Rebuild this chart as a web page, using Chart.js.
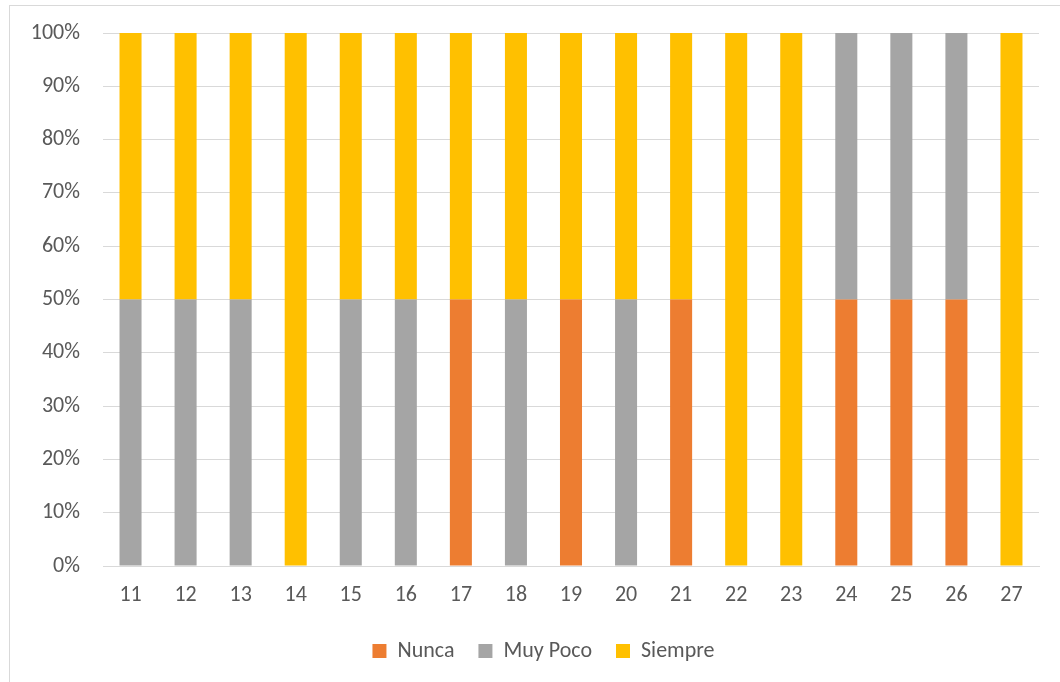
<!DOCTYPE html>
<html>
<head>
<meta charset="utf-8">
<script src="https://cdn.jsdelivr.net/npm/chart.js@4"></script>
<style>
  html, body { margin: 0; padding: 0; background: #fff; }
  #wrap { position: relative; width: 1060px; height: 682px; overflow: hidden; }
  #frame { position: absolute; left: 9px; top: 5px; width: 1100px; height: 720px; border: 1px solid #d9d9d9; box-sizing: border-box; }
  canvas { position: absolute; left: 0; top: 0; }
</style>
</head>
<body>
<div id="wrap">
  <div id="frame"></div>
  <canvas id="chart" width="1060" height="682"></canvas>
</div>
<script>
const categories = ["11","12","13","14","15","16","17","18","19","20","21","22","23","24","25","26","27"];
const nunca    = [0, 0, 0, 0, 0, 0, 50, 0, 50, 0, 50, 0, 0, 50, 50, 50, 0];
const muyPoco  = [50, 50, 50, 0, 50, 50, 0, 50, 0, 50, 0, 0, 0, 50, 50, 50, 0];
const siempre  = [50, 50, 50, 100, 50, 50, 50, 50, 50, 50, 50, 100, 100, 0, 0, 0, 100];

const fontFam = "Carlito, Lato, 'Open Sans', sans-serif";
const txt = "#595959";
const grid = "#d9d9d9";

// push the legend a bit right, like the original
const legendShift = {
  id: "legendShift",
  afterLayout(chart) {
    chart.legend.left += 24;
    chart.legend.right += 24;
  }
};

const ctx = document.getElementById("chart").getContext("2d");
new Chart(ctx, {
  type: "bar",
  data: {
    labels: categories,
    datasets: [
      { label: "Nunca", data: nunca, backgroundColor: "#ED7D31" },
      { label: "Muy Poco", data: muyPoco, backgroundColor: "#A5A5A5" },
      { label: "Siempre", data: siempre, backgroundColor: "#FFC000" }
    ]
  },
  options: {
    responsive: false,
    animation: false,
    layout: { padding: { top: 33, right: 21, left: 0, bottom: 10 } },
    datasets: { bar: { categoryPercentage: 1, barPercentage: 0.4 } },
    plugins: {
      tooltip: { enabled: false },
      legend: {
        position: "bottom",
        labels: {
          boxWidth: 14, boxHeight: 14, padding: 24,
          color: txt, font: { family: fontFam, size: 22 }
        }
      }
    },
    scales: {
      x: {
        stacked: true,
        grid: { display: false, drawTicks: false },
        border: { color: grid },
        ticks: { color: txt, font: { family: fontFam, size: 22 }, padding: 16 },
        afterFit: s => { s.height = 50; }
      },
      y: {
        stacked: true,
        min: 0, max: 100,
        grid: { color: grid, drawTicks: false },
        border: { display: false },
        ticks: {
          stepSize: 10, padding: 23, color: txt,
          font: { family: fontFam, size: 22 },
          callback: v => v + "%"
        },
        afterFit: s => { s.width = 103; s.paddingTop = 0; s.paddingBottom = 0; }
      }
    }
  },
  plugins: [legendShift]
});
</script>
</body>
</html>
